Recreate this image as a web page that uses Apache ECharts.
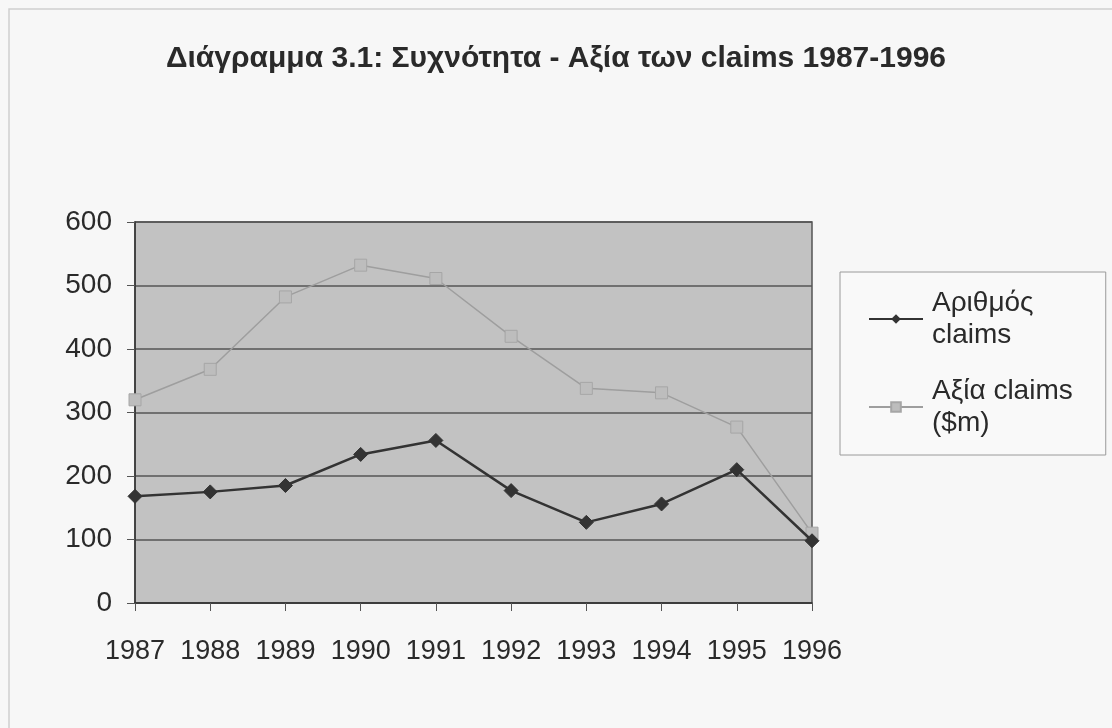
<!DOCTYPE html>
<html>
<head>
<meta charset="utf-8">
<title>Διάγραμμα 3.1</title>
<script src="https://cdn.jsdelivr.net/npm/echarts@6/dist/echarts.min.js"></script>
<style>
  html, body { margin: 0; padding: 0; background: #f7f7f7; }
  #chart { width: 1112px; height: 728px; }
</style>
</head>
<body>
<div id="chart"></div>
<script>
// chart data
const years = ['1987', '1988', '1989', '1990', '1991', '1992', '1993', '1994', '1995', '1996'];
const claimCount = [168, 175, 185, 234, 256, 177, 127, 156, 210, 98];
const claimValue = [320, 368, 482, 532, 511, 420, 338, 331, 277, 110];
const seriesNames = ['Αριθμός claims', 'Αξία claims ($m)'];
const legendLabels = { 'Αριθμός claims': 'Αριθμός\nclaims', 'Αξία claims ($m)': 'Αξία claims\n($m)' };

const font = '"Liberation Sans", Arial, sans-serif';
const chart = echarts.init(document.getElementById('chart'));

chart.setOption({
  backgroundColor: '#f7f7f7',
  animation: false,
  title: {
    text: 'Διάγραμμα 3.1: Συχνότητα - Αξία των claims 1987-1996',
    left: 'center',
    top: 39,
    textStyle: {
      fontFamily: '"Liberation Sans Narrow", "Liberation Sans", Arial, sans-serif',
      fontSize: 30,
      fontWeight: 'bold',
      color: '#2a2a2a'
    }
  },
  graphic: [
    {
      type: 'rect',
      shape: { x: 9, y: 9, width: 1120, height: 740 },
      style: { fill: 'none', stroke: '#cfcfcf', lineWidth: 1.5 },
      silent: true
    }
  ],
  legend: {
    orient: 'vertical',
    left: 840,
    top: 272,
    padding: [15, 33, 16, 28],
    itemGap: 24,
    itemWidth: 54,
    itemHeight: 12,
    backgroundColor: '#f9f9f9',
    borderColor: '#9a9a9a',
    borderWidth: 1,
    borderRadius: 0,
    formatter: (name) => legendLabels[name],
    textStyle: {
      fontFamily: font,
      fontSize: 28,
      lineHeight: 32,
      color: '#2a2a2a',
      padding: [0, 0, 0, 4]
    },
    data: seriesNames
  },
  grid: {
    left: 135,
    right: 300,
    top: 222,
    bottom: 125,
    show: true,
    backgroundColor: '#c2c2c2',
    borderColor: '#555555',
    borderWidth: 1.5
  },
  xAxis: {
    type: 'category',
    data: years,
    boundaryGap: false,
    axisLine: { lineStyle: { color: '#333', width: 1.5 } },
    axisTick: { show: true, interval: 0, length: 8, lineStyle: { color: '#555' } },
    axisLabel: {
      interval: 0,
      fontFamily: font,
      fontSize: 27,
      color: '#2a2a2a',
      margin: 35
    },
    splitLine: { show: false }
  },
  yAxis: {
    type: 'value',
    min: 0,
    max: 600,
    interval: 100,
    axisLine: { show: true, lineStyle: { color: '#333', width: 1.5 } },
    axisTick: { show: true, length: 8, lineStyle: { color: '#555' } },
    axisLabel: {
      fontFamily: font,
      fontSize: 28,
      color: '#2a2a2a',
      margin: 23
    },
    splitLine: { lineStyle: { color: '#555555', width: 1.5 } }
  },
  series: [
    {
      name: seriesNames[0],
      type: 'line',
      data: claimCount,
      symbol: 'diamond',
      symbolSize: 14,
      z: 3,
      lineStyle: { color: '#333333', width: 2.5 },
      itemStyle: { color: '#333333', borderColor: '#333333' }
    },
    {
      name: seriesNames[1],
      type: 'line',
      data: claimValue,
      symbol: 'rect',
      symbolSize: 12,
      z: 2,
      lineStyle: { color: '#9e9e9e', width: 1.5 },
      itemStyle: { color: '#bdbdbd', borderColor: '#a6a6a6', borderWidth: 1 }
    }
  ]
});
</script>
</body>
</html>
